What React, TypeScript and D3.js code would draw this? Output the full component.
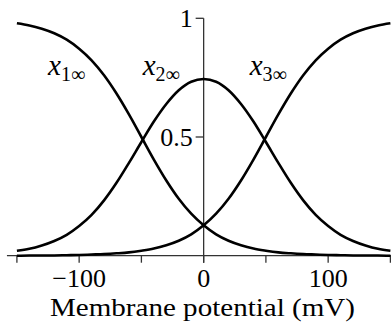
import React from "react";
import * as d3 from "d3";

// Membrane potential samples (mV)
const voltages = [
  -150, -140, -130, -120, -110, -100, -90, -80, -70, -60, -50, -40, -30, -20, -10,
  0, 10, 20, 30, 40, 50, 60, 70, 80, 90, 100, 110, 120, 130, 140, 150,
];

// Steady-state fractions for each state
const x1Inf = [
  0.979, 0.97, 0.956, 0.937, 0.91, 0.872, 0.823, 0.76, 0.683, 0.595, 0.5, 0.405, 0.317, 0.24, 0.177,
  0.128, 0.09, 0.063, 0.044, 0.03, 0.021, 0.014, 0.01, 0.007, 0.005, 0.003, 0.002, 0.001, 0.001, 0.001, 0.0,
];
const x2Inf = [
  0.021, 0.029, 0.043, 0.062, 0.088, 0.125, 0.172, 0.233, 0.307, 0.391, 0.479, 0.565, 0.639, 0.697, 0.733,
  0.744, 0.733, 0.697, 0.639, 0.565, 0.479, 0.391, 0.307, 0.233, 0.172, 0.125, 0.088, 0.062, 0.043, 0.029, 0.021,
];
const x3Inf = [
  0.0, 0.001, 0.001, 0.001, 0.002, 0.003, 0.005, 0.007, 0.01, 0.014, 0.021, 0.03, 0.044, 0.063, 0.09,
  0.128, 0.177, 0.24, 0.317, 0.405, 0.5, 0.595, 0.683, 0.76, 0.823, 0.872, 0.91, 0.937, 0.956, 0.97, 0.979,
];

const xTicks = [-150, -100, -50, 0, 50, 100, 150];
const xTickLabels = [-100, 0, 100];
const yTicks = [0.5, 1];
const curveNames = ["1", "2", "3"];
const curveLabelAt = [-125, -49, 37];

const W = 391;
const H = 327;

function txt(size: number): React.CSSProperties {
  return { fontFamily: '"Times New Roman", "Liberation Serif"', fontSize: `${size}px` };
}

export default function App() {
  const x = d3.scaleLinear().domain([-150, 150]).range([16.9, 390.4]);
  const y = d3.scaleLinear().domain([0, 1]).range([255.7, 18.3]);

  const line = d3
    .line<number>()
    .x((_, i) => x(voltages[i]))
    .y((d) => y(d))
    .curve(d3.curveMonotoneX);

  const series = [x1Inf, x2Inf, x3Inf];
  const x0 = x(0);
  const fmt = (v: number) => (v < 0 ? "\u2212" + Math.abs(v) : String(v));

  return (
    <svg
      width={W}
      height={H}
      style={{ position: "absolute", left: 0, top: 0, fontFamily: '"Times New Roman", "Liberation Serif"' }}
    >
      {/* x axis */}
      <line x1={x(-158)} x2={x(158)} y1={y(0)} y2={y(0)} stroke="#333" strokeWidth={1.3} />
      {xTicks.map((t) => (
        <line key={t} x1={x(t)} x2={x(t)} y1={y(0)} y2={y(0) + 7} stroke="#333" strokeWidth={1.3} />
      ))}
      {xTickLabels.map((t) => (
        <text key={t} x={x(t)} y={287} textAnchor="middle" fill="#000" style={txt(26)}>
          {fmt(t)}
        </text>
      ))}
      <text
        x={202.5}
        y={316}
        textAnchor="middle"
        textLength={305}
        lengthAdjust="spacingAndGlyphs"
        fill="#000"
        style={txt(26)}
      >
        Membrane potential (mV)
      </text>

      {/* y axis */}
      <line x1={x0} x2={x0} y1={y(1)} y2={y(0) + 7} stroke="#333" strokeWidth={1.3} />
      {yTicks.map((t) => (
        <g key={t}>
          <line x1={x0 - 8} x2={x0} y1={y(t)} y2={y(t)} stroke="#333" strokeWidth={1.3} />
          <text x={x0 - 11} y={y(t)} dy="0.35em" textAnchor="end" fill="#000" style={txt(26)}>
            {String(t)}
          </text>
        </g>
      ))}

      {/* curves */}
      {series.map((s, i) => (
        <path key={i} d={line(s) ?? ""} fill="none" stroke="#000" strokeWidth={2.6} />
      ))}

      {/* curve labels */}
      {curveNames.map((n, i) => (
        <text key={n} x={x(curveLabelAt[i])} y={75} fill="#000" style={txt(29)}>
          <tspan fontStyle="italic">x</tspan>
          <tspan dy={6} style={{ fontSize: "20px" }}>
            {n}∞
          </tspan>
        </text>
      ))}
    </svg>
  );
}
